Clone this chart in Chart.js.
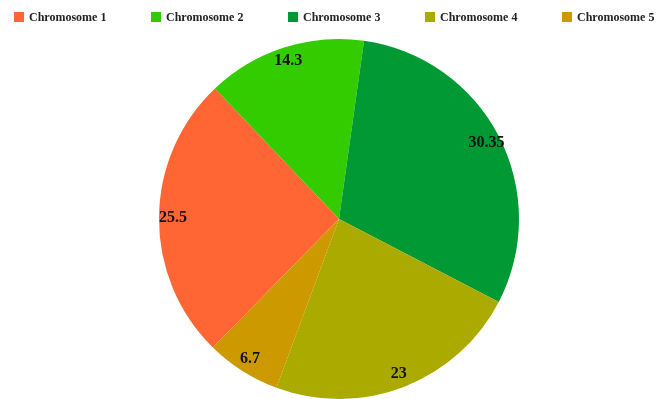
<!DOCTYPE html>
<html>
<head>
<meta charset="utf-8">
<script src="https://cdn.jsdelivr.net/npm/chart.js@4.4.1/dist/chart.umd.min.js"></script>
<style>
  html, body { margin: 0; padding: 0; background: #ffffff; }
  #wrap { position: relative; width: 664px; height: 399px; overflow: hidden; }
  #legend {
    position: absolute; left: 14px; top: 10px; height: 14px;
    display: flex; align-items: center;
    font-family: "Liberation Serif", "DejaVu Serif", serif; font-weight: bold; font-size: 12px; color: #222;
  }
  #legend .item { display: flex; align-items: center; width: 137px; }
  #legend .box { width: 10px; height: 10px; margin-right: 5px; }
  canvas { position: absolute; left: 0; top: 0; }
</style>
</head>
<body>
<div id="wrap">
  <canvas id="c" width="664" height="399"></canvas>
  <div id="legend"></div>
</div>
<script>
// Share of each chromosome
const categories = ["Chromosome 1", "Chromosome 2", "Chromosome 3", "Chromosome 4", "Chromosome 5"];
const values = [25.5, 14.3, 30.35, 23, 6.7];
const colors = ["#ff6633", "#33cc00", "#009933", "#aaaa00", "#cc9900"];

// legend row above the pie
const legendEl = document.getElementById("legend");
categories.forEach((name, i) => {
  const item = document.createElement("div");
  item.className = "item";
  const box = document.createElement("span");
  box.className = "box";
  box.style.background = colors[i];
  const txt = document.createElement("span");
  txt.textContent = name;
  item.appendChild(box);
  item.appendChild(txt);
  legendEl.appendChild(item);
});

// value labels written just inside the rim of each slice
const sliceLabels = {
  id: "sliceLabels",
  afterDatasetsDraw(chart) {
    const ctx = chart.ctx;
    const meta = chart.getDatasetMeta(0);
    ctx.save();
    ctx.font = "bold 16px 'Liberation Serif', 'DejaVu Serif', serif";
    ctx.fillStyle = "#111";
    ctx.textAlign = "center";
    ctx.textBaseline = "middle";
    meta.data.forEach((arc, i) => {
      const p = arc.getProps(["x", "y", "startAngle", "endAngle", "outerRadius"], true);
      const mid = (p.startAngle + p.endAngle) / 2;
      const r = p.outerRadius - 14;
      ctx.fillText(String(values[i]), p.x + Math.cos(mid) * r, p.y + Math.sin(mid) * r);
    });
    ctx.restore();
  }
};

new Chart(document.getElementById("c"), {
  type: "pie",
  data: {
    labels: categories,
    datasets: [{
      data: values,
      backgroundColor: colors,
      borderWidth: 0
    }]
  },
  options: {
    responsive: false,
    animation: false,
    rotation: 224.5,
    radius: 180,
    layout: { padding: { top: 39, left: 14, right: 0, bottom: 0 } },
    plugins: {
      legend: { display: false },
      tooltip: { enabled: false }
    }
  },
  plugins: [sliceLabels]
});
</script>
</body>
</html>
